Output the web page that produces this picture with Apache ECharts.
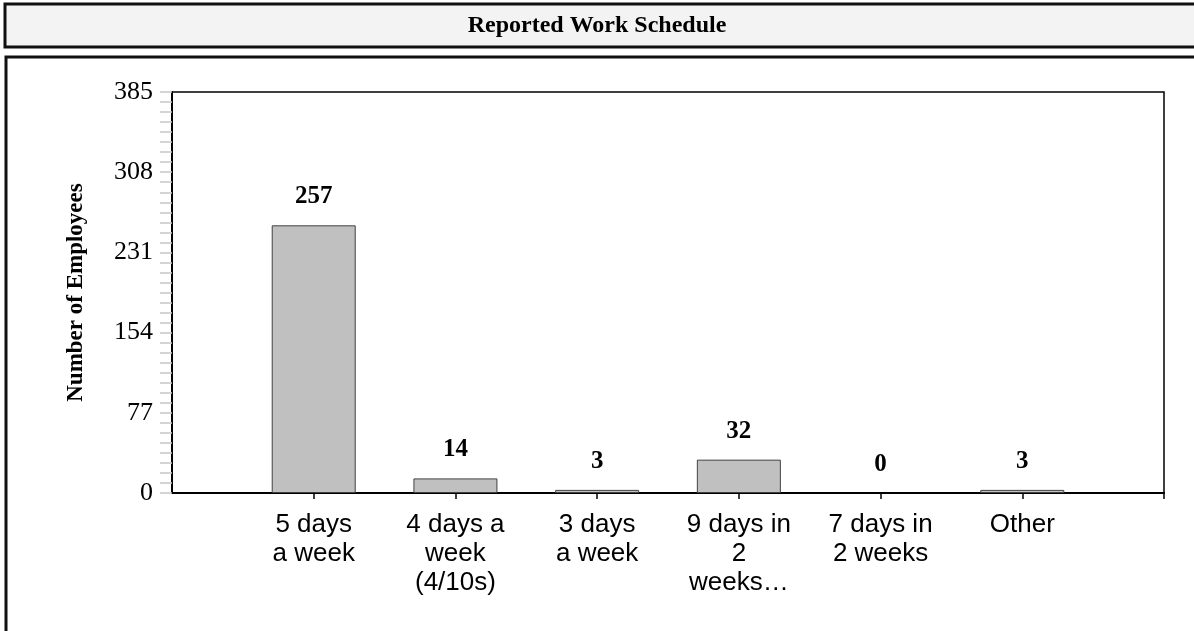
<!DOCTYPE html>
<html>
<head>
<meta charset="utf-8">
<script src="https://cdn.jsdelivr.net/npm/echarts@6/dist/echarts.min.js"></script>
<style>
html, body { margin: 0; padding: 0; background: #fff; }
#chart { width: 1194px; height: 631px; }
</style>
</head>
<body>
<div id="chart"></div>
<script>
// blank first/last slot so the bars sit at 1/7 steps like the original
var categories = ['', '5 days\na week', '4 days a\nweek\n(4/10s)', '3 days\na week', '9 days in\n2\nweeks\u2026', '7 days in\n2 weeks', 'Other', ''];
var employees = [null, 257, 14, 3, 32, 0, 3, null];
var yTicks = [0, 77, 154, 231, 308, 385];

var serif = '"Liberation Serif", "Times New Roman", serif';
var sans = '"Liberation Sans", Arial, sans-serif';

// zero bars get no outline (the original shows nothing there)
var barData = employees.map(function(v) {
	if(v === 0) return { value: v, itemStyle: { borderWidth: 0 } };
	return v;
});

var myChart = echarts.init(document.getElementById('chart'));
var option = {
	animation: false,
	backgroundColor: '#fff',
	graphic: [{
		type: 'rect', z: -10, silent: true,
		shape: { x: 5, y: 4, width: 1200, height: 43 },
		style: { fill: '#f3f3f3', stroke: '#111', lineWidth: 3 }
	}, {
		type: 'text', z: -9, silent: true,
		x: 597, y: 26,
		style: {
			text: 'Reported Work Schedule', fill: '#000',
			font: 'bold 24px ' + serif, textAlign: 'center', textVerticalAlign: 'middle'
		}
	}, {
		type: 'rect', z: -10, silent: true,
		shape: { x: 6, y: 57, width: 1200, height: 600 },
		style: { fill: '#fff', stroke: '#111', lineWidth: 3 }
	}],
	grid: {
		left: 172, top: 92, right: 30, bottom: 138,
		show: true, borderColor: '#000', borderWidth: 1.5, backgroundColor: 'transparent'
	},
	xAxis: {
		type: 'category',
		data: categories,
		boundaryGap: false,
		axisLine: { lineStyle: { color: '#000', width: 2 } },
		axisTick: {
			length: 6,
			lineStyle: { color: '#000', width: 1.5 },
			interval: function(idx) { return idx > 0; }
		},
		axisLabel: {
			interval: 0, margin: 17,
			color: '#000', fontFamily: sans, fontSize: 26, lineHeight: 29
		},
		splitLine: { show: false }
	},
	yAxis: {
		type: 'value',
		min: yTicks[0],
		max: yTicks[yTicks.length - 1],
		interval: yTicks[1] - yTicks[0],
		name: 'Number of Employees',
		nameLocation: 'middle',
		nameGap: 84,
		nameTextStyle: { color: '#000', fontFamily: serif, fontWeight: 'bold', fontSize: 23 },
		axisLine: { show: true, lineStyle: { color: '#000', width: 2 } },
		axisTick: { show: true, length: 12, lineStyle: { color: '#c8c8c8', width: 1.5 } },
		minorTick: { show: true, splitNumber: 8, length: 12, lineStyle: { color: '#c8c8c8', width: 1.5 } },
		axisLabel: { margin: 19, color: '#000', fontFamily: serif, fontSize: 26 },
		splitLine: { show: false }
	},
	series: [{
		type: 'bar',
		data: barData,
		barWidth: 84,
		itemStyle: { color: '#c0c0c0', borderColor: '#404040', borderWidth: 1 },
		label: {
			show: true, position: 'top', distance: 16,
			color: '#000', fontFamily: serif, fontWeight: 'bold', fontSize: 25
		}
	}]
};
myChart.setOption(option);
</script>
</body>
</html>
